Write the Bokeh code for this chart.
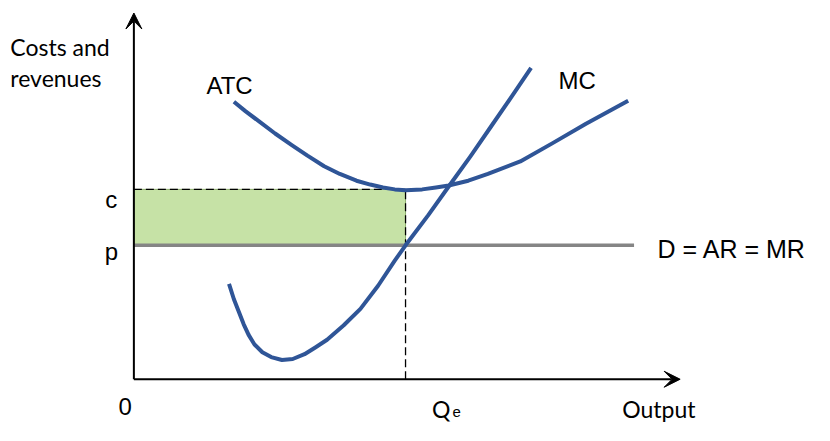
from bokeh.plotting import figure
from bokeh.models import Range1d, Arrow, VeeHead
from bokeh.core.properties import value
from bokeh.embed import file_html
from bokeh.resources import INLINE

# ---- data (units; origin = axes corner) ----
price_p = 139
cost_c = 197
q_e = 277
d_line_end = 510
y_axis_top = 380
x_axis_end = 557

mc_q = [97, 102, 107, 112, 117, 123, 131, 140, 151, 162, 174, 185, 197, 214, 231, 249, 266, 277, 300, 321, 343, 364, 385, 405]
mc_cost = [99, 83, 70, 57, 46, 36, 28, 23, 20, 21, 26, 33, 41, 56, 73, 97, 123, 139, 170, 200, 231, 262, 293, 323]

atc_q = [102, 114, 127, 144, 161, 177, 194, 210, 227, 241, 254, 266, 277, 294, 308, 321, 341, 361, 394, 427, 461, 504]
atc_cost = [288, 278, 268, 255, 243, 232, 221, 213, 206, 202, 199, 197, 196, 197, 199, 201, 206, 213, 226, 245, 265, 289]

labels_txt = ["ATC", "MC", "D = AR = MR", "c", "p", "0"]

BLUE = "#2f5597"

p = figure(width=814, height=425, output_backend="svg", toolbar_location=None,
           x_range=Range1d(-136, 694), y_range=Range1d(-48, 393),
           min_border=0, outline_line_color=None, background_fill_color="white")
p.axis.visible = False
p.grid.visible = False

# profit-loss rectangle
p.quad(left=[0], right=[q_e], bottom=[price_p], top=[cost_c],
       fill_color="#c6e2a6", line_color="#8cae6c", line_width=1)

# dashed guides
p.line([0, q_e], [cost_c, cost_c], line_color="black", line_width=1.3, line_dash="8 4")
p.line([q_e, q_e], [0, cost_c], line_color="black", line_width=1.3, line_dash="8 4")

# D = AR = MR
p.line([0, d_line_end], [price_p, price_p], line_color="#858585", line_width=3.5)

# curves
p.line(mc_q, mc_cost, line_color=BLUE, line_width=4, line_join="round")
p.line(atc_q, atc_cost, line_color=BLUE, line_width=4, line_join="round")

# axes
p.add_layout(Arrow(x_start=0, y_start=0, x_end=0, y_end=y_axis_top, line_width=2, line_color="black",
                   end=VeeHead(size=16, fill_color="black", line_color="black")))
p.add_layout(Arrow(x_start=0, y_start=0, x_end=x_axis_end, y_end=0, line_width=2, line_color="black",
                   end=VeeHead(size=16, fill_color="black", line_color="black")))

# texts
p.text(x=[-126, -126], y=[345, 313], text=["Costs and", "revenues"], text_font=value("Lato"),
       text_font_size="23px", text_color="black", text_baseline="alphabetic", text_align="left")
p.text(x=[74, 433], y=[305, 310], text=labels_txt[:2], text_font=value("Liberation Sans"),
       text_font_size="24px", text_color="black", text_baseline="alphabetic", text_align="left")
p.text(x=[534], y=[135], text=[labels_txt[2]], text_font=value("Liberation Sans"),
       text_font_size="25px", text_color="black", text_baseline="alphabetic", text_align="left")
p.text(x=[-23, -23, -9], y=[186, 133, -28], text=labels_txt[3:], text_font=value("Liberation Sans"),
       text_font_size="24px", text_color="black", text_baseline="alphabetic", text_align="center")
p.text(x=[304], y=[-31], text=["Q"], text_font=value("Lato"),
       text_font_size="23px", text_color="black", text_baseline="alphabetic", text_align="left")
p.text(x=[325], y=[-34], text=["e"], text_font=value("Liberation Sans"),
       text_font_size="15px", text_color="black", text_baseline="alphabetic", text_align="left")
p.text(x=[498], y=[-31], text=["Output"], text_font=value("Lato"),
       text_font_size="23px", text_color="black", text_baseline="alphabetic", text_align="left")

open("out.html", "w").write(file_html(p, INLINE))
